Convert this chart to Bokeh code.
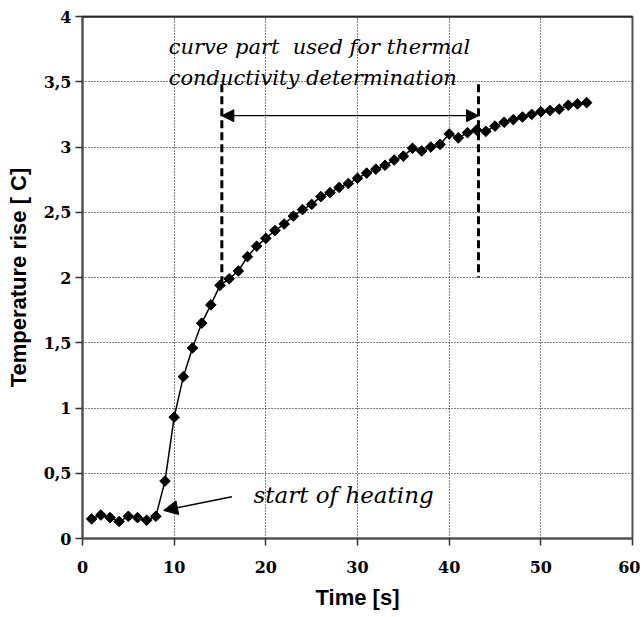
import numpy as np
from bokeh.plotting import figure
from bokeh.models import (Range1d, FixedTicker, CustomJSTickFormatter, Span, Arrow,
                          NormalHead, ColumnDataSource)
from bokeh.core.properties import value
from bokeh.embed import file_html
from bokeh.resources import INLINE

# ---- data ----
time_s = list(range(1, 56))
temp_rise = [0.15, 0.18, 0.16, 0.13, 0.17, 0.16, 0.14, 0.17, 0.44, 0.93,
             1.24, 1.46, 1.65, 1.79, 1.94, 1.99, 2.05, 2.16, 2.24, 2.30,
             2.36, 2.41, 2.47, 2.52, 2.56, 2.62, 2.65, 2.69, 2.72, 2.76,
             2.80, 2.83, 2.86, 2.90, 2.93, 2.99, 2.97, 3.00, 3.02, 3.10,
             3.07, 3.11, 3.13, 3.12, 3.16, 3.19, 3.21, 3.23, 3.25, 3.27,
             3.28, 3.29, 3.32, 3.33, 3.34]
x_ticks = [0, 10, 20, 30, 40, 50, 60]
y_ticks = [0, 0.5, 1, 1.5, 2, 2.5, 3, 3.5, 4]

# annotation positions (data units)
fit_start, fit_end = 15.2, 43.2
fit_top = 3.48
fit_bottoms = [1.95, 2.0]
fit_arrow_y = 3.24
heat_tail = (16.3, 0.32)
heat_tip = (8.85, 0.215)
note1_lines = ["curve part\u00a0 used for thermal", "conductivity determination"]
note1_x = 9.4
note1_y = [3.77, 3.53]
note2_text = "start of heating"
note2_pos = (18.65, 0.33)

SERIF = "DejaVu Serif"
SANS = "Liberation Sans"
AXIS_GRAY = "#555555"

p = figure(frame_width=550, frame_height=522, output_backend="svg", toolbar_location=None,
           x_range=Range1d(0, 60), y_range=Range1d(0, 4),
           min_border_left=82, min_border_top=16, min_border_right=8, min_border_bottom=71)
p.background_fill_color = "white"
p.border_fill_color = "white"
p.outline_line_color = AXIS_GRAY
p.outline_line_width = 2

# axes
for ax in (p.xaxis[0], p.yaxis[0]):
    ax.axis_line_color = AXIS_GRAY
    ax.axis_line_width = 2
    ax.major_tick_line_color = "#333333"
    ax.major_tick_line_width = 1.5
    ax.major_tick_out = 7
    ax.major_tick_in = 0
    ax.minor_tick_line_color = None
    ax.major_label_text_font = SERIF
    ax.major_label_text_font_style = "bold"
    ax.major_label_text_font_size = "16px"
    ax.major_label_text_color = "black"
    ax.axis_label_text_font = SANS
    ax.axis_label_text_font_style = "bold"
    ax.axis_label_text_font_size = "22px"
    ax.axis_label_text_color = "black"

p.xaxis.ticker = FixedTicker(ticks=x_ticks)
p.yaxis.ticker = FixedTicker(ticks=y_ticks)
p.yaxis.formatter = CustomJSTickFormatter(code="return tick.toString().replace('.', ',');")
p.xaxis.axis_label = "Time [s]"
p.yaxis.axis_label = "Temperature rise [ C]"
p.xaxis.major_label_standoff = 15
p.xaxis.axis_label_standoff = 9
p.yaxis.major_label_standoff = 4
p.yaxis.axis_label_standoff = 10

# grid
for g in (p.xgrid[0], p.ygrid[0]):
    g.grid_line_color = "black"
    g.grid_line_dash = "1 2"
    g.grid_line_width = 1
p.xgrid.ticker = FixedTicker(ticks=x_ticks[1:-1])
p.ygrid.ticker = FixedTicker(ticks=y_ticks[1:-1])

# top border in black
p.add_layout(Span(location=4, dimension="width", line_color="black", line_width=2))

# data
src = ColumnDataSource(dict(t=time_s, v=temp_rise))
p.line("t", "v", source=src, line_color="black", line_width=1.5)
p.scatter("t", "v", source=src, marker="square", size=7.5, angle=np.pi / 4,
          fill_color="black", line_color="black")

# dashed markers of the fitted interval
p.segment(x0=[fit_start, fit_end], y0=[fit_top, fit_top], x1=[fit_start, fit_end], y1=fit_bottoms,
          line_color="black", line_width=3, line_dash="8 4")
p.add_layout(Arrow(x_start=fit_start, y_start=fit_arrow_y, x_end=fit_end, y_end=fit_arrow_y,
                   line_color="black", line_width=1.2,
                   start=NormalHead(size=12, fill_color="black", line_color="black"),
                   end=NormalHead(size=12, fill_color="black", line_color="black")))
p.add_layout(Arrow(x_start=heat_tail[0], y_start=heat_tail[1], x_end=heat_tip[0], y_end=heat_tip[1],
                   line_color="black", line_width=1.5,
                   end=NormalHead(size=14, fill_color="black", line_color="black")))

# texts
p.text(x=[note1_x, note1_x], y=note1_y, text=note1_lines, text_font=value(SERIF),
       text_font_style="italic", text_font_size="21px", text_color="black",
       text_baseline="alphabetic", text_align="left")
p.text(x=[note2_pos[0]], y=[note2_pos[1]], text=[note2_text], text_font=value(SERIF),
       text_font_style="italic", text_font_size="23px", text_color="black",
       text_baseline="alphabetic", text_align="left")

open("out.html", "w").write(file_html(p, INLINE))
